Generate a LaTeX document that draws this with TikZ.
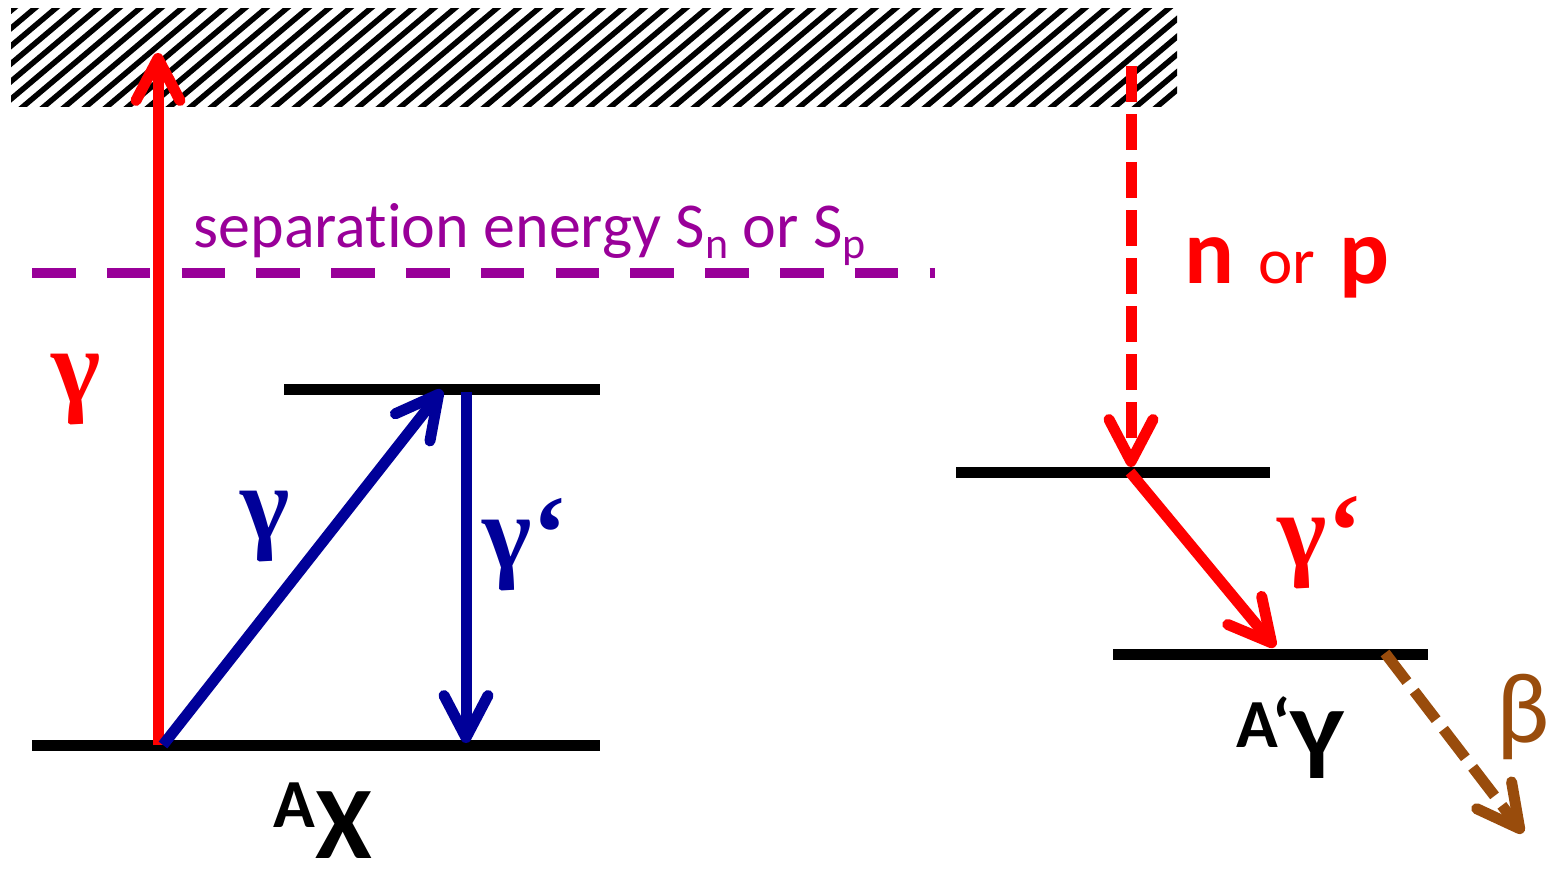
\documentclass[tikz,border=0pt]{standalone}
\usepackage{fontspec}
\setmainfont{Carlito}[Ligatures=NoCommon]
\newfontfamily\gammafont{Liberation Serif}
\usepackage{xcolor}
\usetikzlibrary{
  arrows.meta,
  positioning,
  calc
}
\definecolor{PhotonRed}{HTML}{FF0000}
\definecolor{PhotonBlue}{HTML}{000099}
\definecolor{SepPurple}{HTML}{990099}
\definecolor{BetaBrown}{HTML}{994C0C}
\tikzset{
  level/.style={
    draw=black,
    line width=0.11cm
  },
  photon/.style={
    line width=0.11cm,
    -{Straight Barb[length=0.42cm,width=0.44cm,round]}
  },
  particle/.style={
    photon,
    dash pattern=on 0.36cm off 0.12cm
  },
  hatchline/.style={
    draw=black,
    line width=0.055cm
  },
  separation/.style={
    draw=SepPurple,
    line width=0.1cm,
    dash pattern=on 0.436cm off 0.312cm
  },
  glabel/.style={
    inner sep=0pt,
    font=\gammafont\bfseries\fontsize{30}{30}\selectfont
  },
  nuclide/.style={
    inner sep=0pt,
    anchor=base west,
    font=\bfseries\fontsize{29.3}{30}\selectfont
  }
}

\begin{document}
\begin{tikzpicture}

  \useasboundingbox (0,0) rectangle (15.54,8.71);

  \begin{scope}
    \clip (0.11,7.64) rectangle (11.77,8.62);
    \foreach \k in {0,...,60} {
      \draw[hatchline] (\k*0.21-1.2,7.5) -- ++(1.4,1.18);
    }
  \end{scope}

  \coordinate (gXL) at (0.32,1.26);
  \coordinate (gXR) at (6.00,1.26);
  \coordinate (eXL) at (2.84,4.82);
  \coordinate (eXR) at (6.00,4.82);
  \coordinate (eYL) at (9.56,3.99);
  \coordinate (eYR) at (12.70,3.99);
  \coordinate (gYL) at (11.13,2.17);
  \coordinate (gYR) at (14.28,2.17);

  \coordinate (redStart) at (1.58,1.26);
  \coordinate (redTip) at (1.58,8.18);
  \coordinate (blueStart) at (1.63,1.26);
  \coordinate (blueTip) at (4.42,4.81);
  \coordinate (downStart) at (4.66,4.79);
  \coordinate (downTip) at (4.66,1.28);
  \coordinate (npStart) at (11.31,8.05);
  \coordinate (npTip) at (11.31,4.04);
  \coordinate (decayStart) at (11.30,3.99);
  \coordinate (decayTip) at (12.75,2.24);
  \coordinate (betaStart) at (13.85,2.18);
  \coordinate (betaTip) at (15.23,0.38);
  \coordinate (sepL) at (0.32,5.98);
  \coordinate (sepR) at (9.35,5.98);

  \draw[separation] (sepL) -- (sepR);

  \node[
    anchor=base west,
    inner sep=0pt,
    text=SepPurple,
    font=\fontsize{18.2}{20}\selectfont
  ] (sepText) at (1.93,6.24) {separation energy S\raisebox{-0.11cm}{\fontsize{12.5}{13}\selectfont n} or S\raisebox{-0.11cm}{\fontsize{12.5}{13}\selectfont p}};

  \draw[level] (gXL) -- (gXR);
  \draw[level] (eXL) -- (eXR);
  \draw[level] (eYL) -- (eYR);
  \draw[level] (gYL) -- (gYR);

  \draw[photon, draw=PhotonRed] (redStart) -- (redTip);
  \draw[photon, draw=PhotonBlue] (blueStart) -- (blueTip);
  \draw[photon, draw=PhotonBlue] (downStart) -- (downTip);
  \draw[particle, draw=PhotonRed] (npStart) -- (npTip);
  \draw[photon, draw=PhotonRed] (decayStart) -- (decayTip);
  \draw[particle, draw=BetaBrown] (betaStart) -- (betaTip);

  \node[glabel, text=PhotonRed] (gammaIn) at (0.76,4.81) {γ};
  \node[glabel, text=PhotonBlue] (gammaExc) at (2.65,3.44) {γ};
  \node[glabel, text=PhotonBlue, anchor=base west] (gammaDeexc) at (4.82,3.03) {γ‘};
  \node[glabel, text=PhotonRed, anchor=base west] (gammaY) at (12.77,3.05) {γ‘};

  \node[
    anchor=base west,
    inner sep=0pt,
    text=PhotonRed
  ] (nOrP) at (11.84,5.88) {{\bfseries\fontsize{26.5}{28}\selectfont n}\hspace{0.24cm}{\fontsize{18.5}{20}\selectfont or}\hspace{0.24cm}{\bfseries\fontsize{26.5}{28}\selectfont p}};

  \node[
    inner sep=0pt,
    text=BetaBrown,
    font=\fontsize{28.5}{29}\selectfont
  ] (beta) at (15.23,1.54) {β};

  \node[nuclide] (nucX) at (2.73,0.13) {\raisebox{0.31cm}{\fontsize{19.6}{20}\selectfont A}X};
  \node[nuclide] (nucY) at (12.36,0.93) {\raisebox{0.31cm}{\fontsize{19.6}{20}\selectfont A‘}Y};

\end{tikzpicture}
\end{document}
